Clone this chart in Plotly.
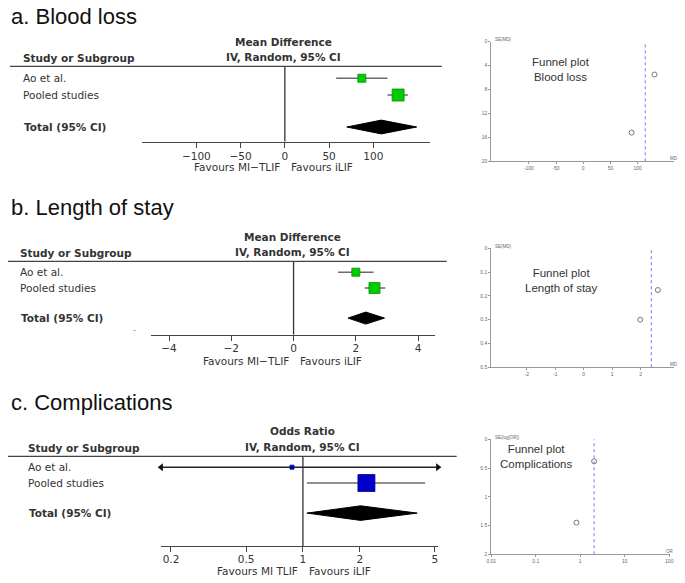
import plotly.graph_objects as go

W, H = 685, 583

# ---------------- data ----------------
studies = ["Ao et al.", "Pooled studies"]
total_label = "Total (95% CI)"

# a. Blood loss (mean difference)
bl_est = [87, 128]
bl_lo = [58, 116]
bl_hi = [116, 139]
bl_total = [70, 109, 149]          # lower, estimate, upper
bl_ticks = [-100, -50, 0, 50, 100]
bl_funnel_md = [89, 131]
bl_funnel_se = [15.2, 5.5]
bl_funnel_pooled = 114
bl_funnel_xticks = [-100, -50, 0, 50, 100]
bl_funnel_yticks = [0, 4, 8, 12, 16, 20]

# b. Length of stay (mean difference)
los_est = [2.0, 2.6]
los_lo = [1.43, 2.29]
los_hi = [2.57, 2.95]
los_total = [1.75, 2.32, 2.92]
los_ticks = [-4, -2, 0, 2, 4]
los_funnel_md = [1.99, 2.61]
los_funnel_se = [0.30, 0.175]
los_funnel_pooled = 2.38
los_funnel_xticks = [-2, -1, 0, 1, 2]
los_funnel_yticks = [0, 0.1, 0.2, 0.3, 0.4, 0.5]

# c. Complications (odds ratio)
comp_est = [0.875, 2.17]
comp_lo = [0.05, 1.05]
comp_hi = [15, 4.44]
comp_total = [1.05, 2.02, 4.03]
comp_ticks = [0.2, 0.5, 1, 2, 5]
comp_funnel_or = [0.82, 2.05]
comp_funnel_se = [1.45, 0.38]
comp_funnel_pooled = 2.05
comp_funnel_xticks = [0.01, 0.1, 1, 10, 100]
comp_funnel_yticks = [0, 0.5, 1, 1.5, 2]

# ---------------- styling / layout ----------------
GREEN, GREEN_EDGE = "#00cc00", "#009000"
BLUE, BLUE_EDGE = "#0000c8", "#000080"
INK = "#333333"
CI_COLOR = "#6a6a6a"
FOREST_FONT = "DejaVu Sans, Verdana, sans-serif"
TITLE_FONT = "Liberation Sans, Arial, Helvetica, sans-serif"
STUDY_ROWS = [0, 1]
TOTAL_ROW = 2.9


def fx(p):
    return p / W


def fy(p):
    return 1 - p / H


def fmt(v):
    return "%g" % v


panels = [
    dict(title="a. Blood loss", measure="Mean Difference", est=bl_est, lo=bl_lo, hi=bl_hi,
         total=bl_total, ticks=bl_ticks, log=False, null=0, color=GREEN, edge=GREEN_EDGE, sizes=[8, 12],
         fav_left="Favours MI\u2212TLIF", title_y=14, head1_y=39, head2_y=55, head_x=282,
         hline_y=64, hline_x=(5, 442), label_x=16, axis_y=140, xdom=(139, 430),
         xrange=(-161, 164), yrange=(3.765, -0.706), dh=0.41, fav_y=166, tick_standoff=0,
         f_md=bl_funnel_md, f_se=bl_funnel_se, f_pool=bl_funnel_pooled,
         f_xt=bl_funnel_xticks, f_yt=bl_funnel_yticks, f_log=False,
         f_xdom=(492, 677), f_ydom=(39, 160), f_xrange=(-169, 167), f_yrange=(20, 0),
         f_text="Funnel plot<br>Blood loss", f_text_xy=(563, 67), f_ytitle="SE(MD)", f_xtitle="MD"),
    dict(title="b. Length of stay", measure="Mean Difference", est=los_est, lo=los_lo, hi=los_hi,
         total=los_total, ticks=los_ticks, log=False, null=0, color=GREEN, edge=GREEN_EDGE, sizes=[8, 11],
         fav_left="Favours MI\u2212TLIF", title_y=207, head1_y=236, head2_y=252, head_x=291,
         hline_y=261, hline_x=(3, 447), label_x=13, axis_y=335, xdom=(148, 435),
         xrange=(-4.57, 4.54), yrange=(3.94, -0.6875), dh=0.38, fav_y=362, tick_standoff=-1,
         f_md=los_funnel_md, f_se=los_funnel_se, f_pool=los_funnel_pooled,
         f_xt=los_funnel_xticks, f_yt=los_funnel_yticks, f_log=False,
         f_xdom=(492, 677), f_ydom=(248, 368), f_xrange=(-3.25, 3.18), f_yrange=(0.5, 0),
         f_text="Funnel plot<br>Length of stay", f_text_xy=(563, 280), f_ytitle="SE(MD)", f_xtitle="MD"),
    dict(title="c. Complications", measure="Odds Ratio", est=comp_est, lo=comp_lo, hi=comp_hi,
         total=comp_total, ticks=comp_ticks, log=True, null=1, color=BLUE, edge=BLUE_EDGE, sizes=[4, 17],
         fav_left="Favours MI TLIF", title_y=404, head1_y=432, head2_y=449, head_x=301,
         hline_y=458, hline_x=(3, 457), label_x=21, axis_y=549, xdom=(158, 438),
         xrange=(-0.751, 0.715), yrange=(5.0, -0.6875), dh=0.46, fav_y=574, tick_standoff=-2,
         f_md=comp_funnel_or, f_se=comp_funnel_se, f_pool=comp_funnel_pooled,
         f_xt=comp_funnel_xticks, f_yt=comp_funnel_yticks, f_log=True,
         f_xdom=(492, 673), f_ydom=(441, 557), f_xrange=(-2, 2.02), f_yrange=(2, 0),
         f_text="Funnel plot<br>Complications", f_text_xy=(537, 458), f_ytitle="SE(log[OR])", f_xtitle="OR"),
]

fig = go.Figure()
shapes = []
annotations = []
layout = {}


def axname(kind, n):
    return kind + "axis" + ("" if n == 1 else str(n))


def ref(kind, n):
    return kind + ("" if n == 1 else str(n))


for i, p in enumerate(panels):
    nf = 2 * i + 1   # forest axes
    nu = 2 * i + 2   # funnel axes
    xr, yr = ref("x", nf), ref("y", nf)

    # ----- forest axes -----
    layout[axname("x", nf)] = dict(
        domain=[fx(p["xdom"][0]), fx(p["xdom"][1])], range=list(p["xrange"]),
        type="log" if p["log"] else "linear", anchor=yr,
        showline=True, linecolor="#444", linewidth=1.3, ticks="outside", ticklen=5,
        tickwidth=1.2, tickcolor="#444", tickvals=p["ticks"],
        ticklabelstandoff=p["tick_standoff"],
        tickfont=dict(family=FOREST_FONT, size=10.5, color=INK),
        showgrid=False, zeroline=False, fixedrange=True)
    layout[axname("y", nf)] = dict(
        domain=[fy(p["axis_y"]), fy(p["hline_y"])], range=list(p["yrange"]), anchor=xr,
        visible=False, showgrid=False, zeroline=False, fixedrange=True)

    lo_lim = 10 ** p["xrange"][0] if p["log"] else p["xrange"][0]
    hi_lim = 10 ** p["xrange"][1] if p["log"] else p["xrange"][1]

    # confidence interval lines
    for j in range(len(p["est"])):
        row = STUDY_ROWS[j]
        a, b = max(p["lo"][j], lo_lim), min(p["hi"][j], hi_lim)
        clipped = p["lo"][j] < lo_lim or p["hi"][j] > hi_lim
        fig.add_trace(go.Scatter(x=[a, b], y=[row, row], mode="lines",
                                 line=dict(color="#222" if clipped else CI_COLOR, width=1.4),
                                 xaxis=xr, yaxis=yr, hoverinfo="skip", showlegend=False))
        arr_x, arr_s = [], []
        if p["lo"][j] < lo_lim:
            arr_x.append(a)
            arr_s.append("triangle-left")
        if p["hi"][j] > hi_lim:
            arr_x.append(b)
            arr_s.append("triangle-right")
        if arr_x:
            fig.add_trace(go.Scatter(x=arr_x, y=[row] * len(arr_x), mode="markers",
                                     marker=dict(symbol=arr_s, size=7, color="#111", opacity=1),
                                     cliponaxis=False, xaxis=xr, yaxis=yr,
                                     hoverinfo="skip", showlegend=False))
    # point estimates
    fig.add_trace(go.Scatter(x=p["est"], y=STUDY_ROWS, mode="markers",
                             marker=dict(symbol="square", size=p["sizes"], color=p["color"],
                                         opacity=1, line=dict(width=0.8, color=p["edge"])),
                             xaxis=xr, yaxis=yr, showlegend=False))
    # total diamond
    lo, est, hi = p["total"]
    h = p["dh"]
    fig.add_trace(go.Scatter(x=[lo, est, hi, est, lo],
                             y=[TOTAL_ROW, TOTAL_ROW - h, TOTAL_ROW, TOTAL_ROW + h, TOTAL_ROW],
                             mode="lines", fill="toself", fillcolor="#000",
                             line=dict(color="#000", width=1), xaxis=xr, yaxis=yr,
                             showlegend=False, hoverinfo="skip"))
    # line of no effect
    shapes.append(dict(type="line", xref=xr, x0=p["null"], x1=p["null"],
                       yref=yr + " domain", y0=0, y1=1, line=dict(color=INK, width=1.3)))
    # header rule
    shapes.append(dict(type="line", xref="paper", yref="paper",
                       x0=fx(p["hline_x"][0]), x1=fx(p["hline_x"][1]),
                       y0=fy(p["hline_y"]), y1=fy(p["hline_y"]),
                       line=dict(color="#444", width=1.3)))

    # texts
    annotations.append(dict(text=p["title"], x=fx(4), y=fy(p["title_y"]), xref="paper", yref="paper",
                            xanchor="left", yanchor="middle", showarrow=False,
                            font=dict(family=TITLE_FONT, size=22, color="#111")))
    annotations.append(dict(text="<b>" + p["measure"] + "</b>", x=fx(p["head_x"]), y=fy(p["head1_y"]),
                            xref="paper", yref="paper", xanchor="center", yanchor="middle",
                            showarrow=False, font=dict(family=FOREST_FONT, size=10.5, color=INK)))
    annotations.append(dict(text="<b>IV, Random, 95% CI</b>", x=fx(p["head_x"]), y=fy(p["head2_y"]),
                            xref="paper", yref="paper", xanchor="center", yanchor="middle",
                            showarrow=False, font=dict(family=FOREST_FONT, size=10.5, color=INK)))
    annotations.append(dict(text="<b>Study or Subgroup</b>", x=fx(p["label_x"]), y=fy(p["head2_y"] + 1),
                            xref="paper", yref="paper", xanchor="left", yanchor="middle",
                            showarrow=False, font=dict(family=FOREST_FONT, size=10.5, color=INK)))
    for j, name in enumerate(studies):
        annotations.append(dict(text=name, x=fx(p["label_x"]), y=STUDY_ROWS[j], xref="paper", yref=yr,
                                xanchor="left", yanchor="middle", showarrow=False,
                                font=dict(family=FOREST_FONT, size=10.5, color=INK)))
    annotations.append(dict(text="<b>" + total_label + "</b>", x=fx(p["label_x"] + 1), y=TOTAL_ROW,
                            xref="paper", yref=yr, xanchor="left", yanchor="middle", showarrow=False,
                            font=dict(family=FOREST_FONT, size=10.5, color=INK)))
    null_x = 0 if p["log"] else p["null"]
    annotations.append(dict(text=p["fav_left"], x=null_x, xref=xr, y=fy(p["fav_y"]), yref="paper",
                            xanchor="right", yanchor="middle", xshift=-3, showarrow=False,
                            font=dict(family=FOREST_FONT, size=10.5, color=INK)))
    annotations.append(dict(text="Favours iLIF", x=null_x, xref=xr, y=fy(p["fav_y"]), yref="paper",
                            xanchor="left", yanchor="middle", xshift=4, showarrow=False,
                            font=dict(family=FOREST_FONT, size=10.5, color=INK)))

    # ----- funnel plot -----
    ux, uy = ref("x", nu), ref("y", nu)
    layout[axname("x", nu)] = dict(
        domain=[fx(p["f_xdom"][0]), fx(p["f_xdom"][1])], range=list(p["f_xrange"]),
        type="log" if p["f_log"] else "linear", anchor=uy,
        showline=True, linecolor="#999", linewidth=1, ticks="outside", ticklen=2,
        tickcolor="#999", tickvals=p["f_xt"], ticktext=[fmt(v) for v in p["f_xt"]],
        tickfont=dict(family=TITLE_FONT, size=5, color="#666"),
        showgrid=False, zeroline=False, fixedrange=True)
    layout[axname("y", nu)] = dict(
        domain=[fy(p["f_ydom"][1]), fy(p["f_ydom"][0])], range=list(p["f_yrange"]), anchor=ux,
        showline=True, linecolor="#999", linewidth=1, ticks="outside", ticklen=2,
        tickcolor="#999", tickvals=p["f_yt"], ticktext=[fmt(v) for v in p["f_yt"]],
        tickfont=dict(family=TITLE_FONT, size=5, color="#666"),
        showgrid=False, zeroline=False, fixedrange=True)
    fig.add_trace(go.Scatter(x=p["f_md"], y=p["f_se"], mode="markers",
                             marker=dict(symbol="circle-open", size=5, color="#777",
                                         line=dict(width=1)),
                             xaxis=ux, yaxis=uy, showlegend=False))
    shapes.append(dict(type="line", xref=ux, x0=p["f_pool"], x1=p["f_pool"],
                       yref=uy + " domain", y0=0, y1=1,
                       line=dict(color="#7777ff", width=1, dash="dot")))
    annotations.append(dict(text=p["f_text"], x=fx(p["f_text_xy"][0]), y=fy(p["f_text_xy"][1]),
                            xref="paper", yref="paper", xanchor="center", yanchor="middle",
                            showarrow=False, align="center",
                            font=dict(family=TITLE_FONT, size=11.5, color="#333")))
    annotations.append(dict(text=p["f_ytitle"], x=fx(p["f_xdom"][0] + 2), y=fy(p["f_ydom"][0] - 2),
                            xref="paper", yref="paper", xanchor="left", yanchor="middle",
                            showarrow=False, font=dict(family=TITLE_FONT, size=4.5, color="#666")))
    annotations.append(dict(text=p["f_xtitle"], x=fx(p["f_xdom"][1]), y=fy(p["f_ydom"][1] - 3),
                            xref="paper", yref="paper", xanchor="center", yanchor="middle",
                            showarrow=False, font=dict(family=TITLE_FONT, size=4.5, color="#666")))

# stray mark in panel b
annotations.append(dict(text="-", x=fx(127), y=fy(331), xref="paper", yref="paper",
                        showarrow=False, font=dict(family=FOREST_FONT, size=8, color="#888")))

fig.update_layout(width=W, height=H, margin=dict(l=0, r=0, t=0, b=0),
                  paper_bgcolor="white", plot_bgcolor="white",
                  shapes=shapes, annotations=annotations, showlegend=False, **layout)

fig.write_html("out.html", config={"displayModeBar": False},
               post_script="document.body.style.margin='0';document.body.style.overflow='hidden';")
